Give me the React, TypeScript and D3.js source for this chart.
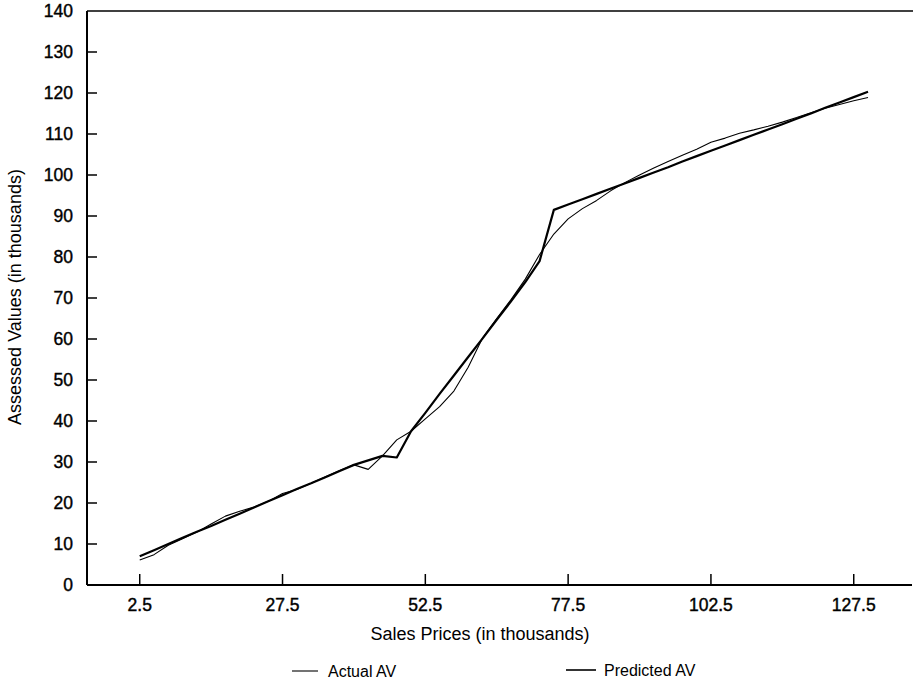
import React from "react";
import * as d3 from "d3";

const salesPrices = [
  2.5, 5, 7.5, 10, 12.5, 15, 17.5, 20, 22.5, 25, 27.5, 30, 32.5, 35, 37.5, 40,
  42.5, 45, 47.5, 50, 52.5, 55, 57.5, 60, 62.5, 65, 67.5, 70, 72.5, 75, 77.5, 80,
  82.5, 85, 87.5, 90, 92.5, 95, 97.5, 100, 102.5, 105, 107.5, 110, 112.5, 115,
  117.5, 120, 122.5, 125, 127.5, 130,
];

const actualAV = [
  6.1, 7.4, 9.7, 11.3, 12.9, 14.9, 16.8, 18.0, 19.0, 20.4, 22.3, 23.3, 24.8, 26.4, 27.9, 29.3,
  28.2, 31.5, 35.4, 37.5, 40.5, 43.5, 47.3, 53.1, 60.2, 65.0, 69.6, 74.6, 80.6, 85.6, 89.3, 91.8,
  93.8, 96.2, 98.2, 100.0, 101.7, 103.3, 104.8, 106.3, 108.0, 109.0, 110.2, 111.0, 111.9, 112.9,
  114.0, 115.2, 116.3, 117.2, 118.1, 118.9,
];

const predictedAV = [
  7.0, 8.5, 10.0, 11.5, 13.0, 14.4, 15.9, 17.4, 18.9, 20.4, 21.9, 23.4, 24.8, 26.3, 27.8, 29.3,
  30.4, 31.5, 31.1, 37.5, 42.0, 46.6, 51.1, 55.6, 60.1, 64.7, 69.2, 73.9, 79.0, 91.5, 92.8, 94.1,
  95.4, 96.7, 98.0, 99.3, 100.6, 101.9, 103.3, 104.6, 105.9, 107.2, 108.5, 109.8, 111.1, 112.4,
  113.7, 115.0, 116.4, 117.7, 119.0, 120.3,
];

const xTicks = [2.5, 27.5, 52.5, 77.5, 102.5, 127.5];
const yTicks = [0, 10, 20, 30, 40, 50, 60, 70, 80, 90, 100, 110, 120, 130, 140];

const seriesNames = ["Actual AV", "Predicted AV"];

const W = 914;
const H = 680;
const FONT = "'Liberation Sans', Arial, Helvetica, sans-serif";

export default function App() {
  const left = 87;
  const right = 912;
  const top = 11;
  const bottom = 585;

  const x = d3.scaleLinear().domain([-6.73, 137.7]).range([left, right]);
  const y = d3.scaleLinear().domain([0, 140]).range([bottom, top]);

  const line = d3
    .line<number>()
    .x((_, i) => x(salesPrices[i]))
    .y((d) => y(d));

  return (
    <div style={{ position: "fixed", left: 0, top: 0 }}>
      <svg width={W} height={H} style={{ display: "block", background: "#fff" }}>
        <rect x={0} y={0} width={W} height={H} fill="#fff" />
        {/* frame */}
        <line x1={left} x2={right + 1} y1={top} y2={top} stroke="#000" strokeWidth={1.6} />
        <line x1={left} x2={left} y1={top} y2={bottom} stroke="#000" strokeWidth={2} />
        <line x1={left} x2={right} y1={bottom} y2={bottom} stroke="#000" strokeWidth={2} />

        {/* y ticks */}
        {yTicks.map((t) => (
          <g key={"y" + t}>
            {t !== 0 && t !== 140 && (
              <line x1={left} x2={left + 10} y1={y(t)} y2={y(t)} stroke="#000" strokeWidth={1.5} />
            )}
            <text
              x={73}
              y={y(t)}
              dy="0.36em"
              textAnchor="end"
              fontFamily={FONT}
              fontSize={17.5}
              fill="#000"
              stroke="#000"
              strokeWidth={0.4}
            >
              {t}
            </text>
          </g>
        ))}

        {/* x ticks */}
        {xTicks.map((t) => (
          <g key={"x" + t}>
            <line x1={x(t)} x2={x(t)} y1={bottom} y2={bottom - 11} stroke="#000" strokeWidth={1.5} />
            <text
              x={x(t)}
              y={611}
              textAnchor="middle"
              fontFamily={FONT}
              fontSize={17.5}
              fill="#000"
              stroke="#000"
              strokeWidth={0.4}
            >
              {t}
            </text>
          </g>
        ))}

        {/* axis titles */}
        <text x={480} y={640} textAnchor="middle" fontFamily={FONT} fontSize={18} fill="#000">
          Sales Prices (in thousands)
        </text>
        <text
          transform={`translate(21, 297) rotate(-90)`}
          textAnchor="middle"
          fontFamily={FONT}
          fontSize={18}
          fill="#000"
        >
          Assessed Values (in thousands)
        </text>

        {/* series */}
        <path d={line(actualAV) || ""} fill="none" stroke="#000" strokeWidth={1.1} strokeLinejoin="round" />
        <path d={line(predictedAV) || ""} fill="none" stroke="#000" strokeWidth={2.2} strokeLinejoin="round" />

        {/* legend */}
        <line x1={292} x2={318} y1={671} y2={671} stroke="#000" strokeWidth={1.1} />
        <text x={328} y={677} fontFamily={FONT} fontSize={16} fill="#000">
          {seriesNames[0]}
        </text>
        <line x1={566} x2={596} y1={670} y2={670} stroke="#000" strokeWidth={1.6} />
        <text x={604} y={676} fontFamily={FONT} fontSize={16} fill="#000">
          {seriesNames[1]}
        </text>
      </svg>
    </div>
  );
}
